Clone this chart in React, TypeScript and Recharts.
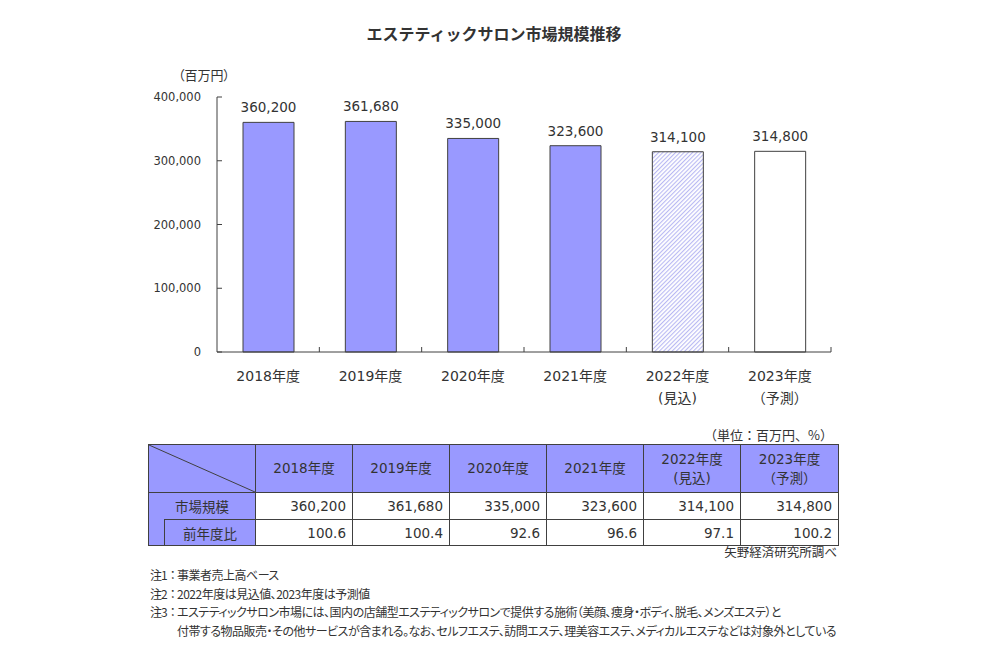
import React from 'react';
import { BarChart, Bar, XAxis, YAxis, Cell, LabelList } from 'recharts';

const title = 'エステティックサロン市場規模推移';
const unitLabel = '（百万円）';
const categories = ['2018年度', '2019年度', '2020年度', '2021年度', '2022年度', '2023年度'];
const subLabels = ['', '', '', '', '(見込)', '（予測）'];
const marketSize = [360200, 361680, 335000, 323600, 314100, 314800];
const yoy = [100.6, 100.4, 92.6, 96.6, 97.1, 100.2];
const kinds = ['actual', 'actual', 'actual', 'actual', 'estimate', 'forecast'];
const yTicks = [0, 100000, 200000, 300000, 400000];
const rowLabels = ['市場規模', '前年度比'];
const tableUnit = '（単位：百万円、%）';
const source = '矢野経済研究所調べ';
const notes = [
  { head: '注1：', lines: ['事業者売上高ベース'] },
  { head: '注2：', lines: ['2022年度は見込値、2023年度は予測値'] },
  {
    head: '注3：',
    lines: [
      'エステティックサロン市場には、国内の店舗型エステティックサロンで提供する施術（美顔、痩身・ボディ、脱毛、メンズエステ）と',
      '付帯する物品販売・その他サービスが含まれる。なお、セルフエステ、訪問エステ、理美容エステ、メディカルエステなどは対象外としている',
    ],
  },
];

const data = categories.map((c, i) => ({ name: c, sub: subLabels[i], value: marketSize[i], kind: kinds[i] }));

const CHART_W = 1000;
const CHART_H = 420;
const MARGIN = { top: 97, right: 169, bottom: 8, left: 157 };
const Y_W = 60;
const X_H = 60;
const PLOT_W = CHART_W - MARGIN.left - MARGIN.right - Y_W;
const AXIS = '#404040';
const TEXT = '#333333';
const PURPLE = '#9999FF';
const NUM_FONT = "'DejaVu Sans', 'Noto Sans CJK JP', sans-serif";
const JP_FONT = "'Noto Sans CJK JP', 'DejaVu Sans', sans-serif";

const fillFor = (k: string) => (k === 'actual' ? PURPLE : k === 'estimate' ? 'url(#hatch)' : '#FFFFFF');
const fmt = (v: number) => v.toLocaleString('en-US');

const XTick = (props: any) => {
  const { x, y, payload, index } = props;
  const bw = PLOT_W / categories.length;
  const sub = subLabels[index];
  return (
    <g>
      <line x1={x + bw / 2} x2={x + bw / 2} y1={y} y2={y - 5} stroke={AXIS} strokeWidth={1} />
      <text x={x} y={y + 29} textAnchor="middle" fill={TEXT} fontSize={14} fontFamily={NUM_FONT}>
        {payload.value}
      </text>
      {sub ? (
        <text x={x} y={y + 51} textAnchor="middle" fill={TEXT} fontSize={14} fontFamily={NUM_FONT}>
          {sub}
        </text>
      ) : null}
    </g>
  );
};

const YTick = (props: any) => {
  const { x, y, payload } = props;
  return (
    <g>
      <line x1={x + 16} x2={x + 21} y1={y} y2={y} stroke={AXIS} strokeWidth={1} />
      <text x={x} y={y} dy={4} textAnchor="end" fill={TEXT} fontSize={11.5} fontFamily={NUM_FONT}>
        {fmt(payload.value)}
      </text>
    </g>
  );
};

const border = `1px solid ${AXIS}`;
const cellBase: React.CSSProperties = {
  border,
  padding: 0,
  fontFamily: NUM_FONT,
  fontSize: 13.5,
  color: TEXT,
  verticalAlign: 'middle',
};
const headCell: React.CSSProperties = { ...cellBase, background: PURPLE, textAlign: 'center', lineHeight: '19px' };
const numCell: React.CSSProperties = { ...cellBase, background: '#FFFFFF', textAlign: 'right', paddingRight: 6 };
const labelCell: React.CSSProperties = {
  ...cellBase,
  background: PURPLE,
  textAlign: 'center',
  fontFamily: JP_FONT,
  fontSize: 13.5,
};

export default function App() {
  return (
    <div
      style={{
        position: 'absolute',
        left: 0,
        top: 0,
        width: 1000,
        height: 670,
        background: '#FFFFFF',
        overflow: 'hidden',
      }}
    >
      <svg width={0} height={0} style={{ position: 'absolute' }}>
        <defs>
          <pattern id="hatch" patternUnits="userSpaceOnUse" width={3} height={3} patternTransform="rotate(45)">
            <rect x={0} y={0} width={3} height={3} fill="#FFFFFF" />
            <line x1={0.6} y1={0} x2={0.6} y2={3} stroke="#B2B2F2" strokeWidth={1} />
          </pattern>
        </defs>
      </svg>

      <div
        style={{
          position: 'absolute',
          top: 21,
          left: 0,
          width: 988,
          textAlign: 'center',
          fontFamily: JP_FONT,
          fontWeight: 'bold',
          fontSize: 16,
          color: TEXT,
          lineHeight: '24px',
        }}
      >
        {title}
      </div>

      <div
        style={{
          position: 'absolute',
          top: 66,
          left: 178,
          fontFamily: JP_FONT,
          fontSize: 13,
          color: TEXT,
          lineHeight: '18px',
          fontFeatureSettings: "'palt'",
        }}
      >
        {unitLabel}
      </div>

      <div style={{ position: 'absolute', left: 0, top: 0 }}>
        <BarChart width={CHART_W} height={CHART_H} data={data} margin={MARGIN}>
          <XAxis
            dataKey="name"
            height={X_H}
            tickSize={0}
            tickMargin={0}
            tickLine={false}
            axisLine={{ stroke: AXIS, strokeWidth: 1 }}
            tick={<XTick />}
            interval={0}
          />
          <YAxis
            width={Y_W}
            domain={[0, 400000]}
            ticks={yTicks}
            tickSize={0}
            tickMargin={16}
            tickLine={false}
            axisLine={{ stroke: AXIS, strokeWidth: 1 }}
            tick={<YTick />}
            interval={0}
          />
          <Bar dataKey="value" barSize={51} stroke={AXIS} strokeWidth={1} isAnimationActive={false}>
            {data.map((d, i) => (
              <Cell key={i} fill={fillFor(d.kind)} />
            ))}
            <LabelList
              dataKey="value"
              position="top"
              offset={10}
              formatter={(v: any) => fmt(Number(v))}
              style={{ fontSize: 13.5, fontFamily: NUM_FONT, fill: TEXT }}
            />
          </Bar>
        </BarChart>
      </div>

      <div
        style={{
          position: 'absolute',
          top: 426,
          right: 1000 - 833,
          fontFamily: JP_FONT,
          fontSize: 13,
          color: TEXT,
          lineHeight: '18px',
        }}
      >
        {tableUnit}
      </div>

      <table
        style={{
          position: 'absolute',
          left: 148,
          top: 444,
          width: 690,
          borderCollapse: 'collapse',
          tableLayout: 'fixed',
        }}
      >
        <colgroup>
          <col style={{ width: 16 }} />
          <col style={{ width: 91 }} />
          {categories.map((c, i) => (
            <col key={c} style={{ width: i === categories.length - 1 ? 98 : 97 }} />
          ))}
        </colgroup>
        <tbody>
          <tr style={{ height: 48 }}>
            <td colSpan={2} style={{ ...headCell, position: 'relative' }}>
              <svg
                width="100%"
                height="100%"
                style={{ position: 'absolute', left: 0, top: 0, display: 'block' }}
                preserveAspectRatio="none"
                viewBox="0 0 100 100"
              >
                <line x1={0} y1={0} x2={100} y2={100} stroke={AXIS} strokeWidth={1} vectorEffect="non-scaling-stroke" />
              </svg>
            </td>
            {categories.map((c, i) => (
              <td key={c} style={headCell}>
                {c}
                {subLabels[i] ? (
                  <>
                    <br />
                    {subLabels[i]}
                  </>
                ) : null}
              </td>
            ))}
          </tr>
          <tr style={{ height: 27 }}>
            <td colSpan={2} style={labelCell}>
              {rowLabels[0]}
            </td>
            {marketSize.map((v, i) => (
              <td key={i} style={numCell}>
                {fmt(v)}
              </td>
            ))}
          </tr>
          <tr style={{ height: 26 }}>
            <td style={{ ...labelCell, borderTop: 'hidden' }} />
            <td style={labelCell}>{rowLabels[1]}</td>
            {yoy.map((v, i) => (
              <td key={i} style={numCell}>
                {v.toFixed(1)}
              </td>
            ))}
          </tr>
        </tbody>
      </table>

      <div
        style={{
          position: 'absolute',
          top: 543,
          right: 1000 - 837,
          fontFamily: JP_FONT,
          fontSize: 12.5,
          color: TEXT,
          lineHeight: '18px',
          fontFeatureSettings: "'palt'",
        }}
      >
        {source}
      </div>

      <div
        style={{
          position: 'absolute',
          top: 566,
          left: 150,
          fontFamily: JP_FONT,
          fontSize: 12,
          color: TEXT,
          lineHeight: '18.7px',
          whiteSpace: 'nowrap',
        }}
      >
        {notes.map((n, i) => (
          <div key={i} style={{ display: 'flex' }}>
            <span style={{ width: 27, flex: 'none', display: 'inline-block', letterSpacing: -1 }}>{n.head}</span>
            <div style={{ fontFeatureSettings: "'palt'", letterSpacing: -0.5 }}>
              {n.lines.map((l, j) => (
                <div key={j}>{l}</div>
              ))}
            </div>
          </div>
        ))}
      </div>
    </div>
  );
}
